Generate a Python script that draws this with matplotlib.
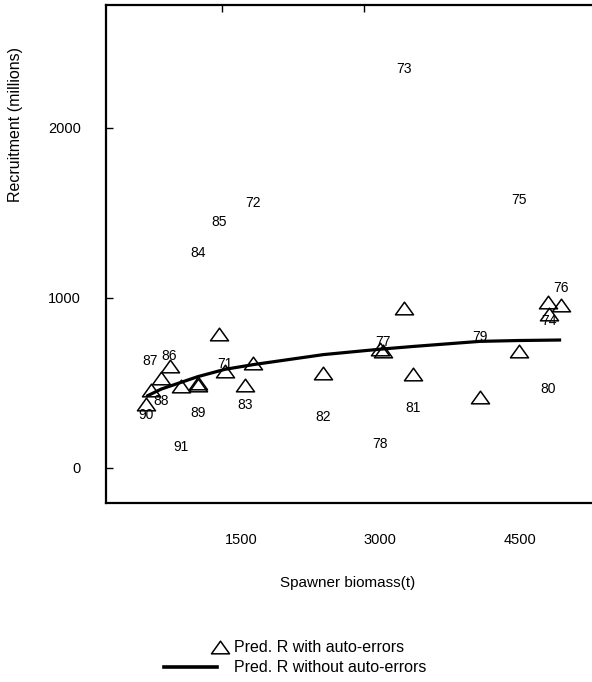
import matplotlib
matplotlib.use('agg')
from matplotlib import pyplot as plt
from matplotlib.lines import Line2D
from matplotlib.path import Path

plt.rcParams['font.family'] = ['Liberation Sans', 'DejaVu Sans']

# spawner biomass (t) and recruitment (millions) per year
years = ['71', '72', '73', '74', '75', '76', '77', '78', '79', '80', '81',
         '82', '83', '84', '85', '86', '87', '88', '89', '90', '91']
spawner = [1327, 1633, 3251, 4816, 4492, 4945, 3029, 2992, 4071, 4802, 3353,
           2388, 1546, 1036, 1266, 734, 529, 644, 1039, 483, 860]
observed_r = [610, 1560, 2348, 860, 1574, 1057, 737, 139, 770, 463, 349,
              300, 370, 1264, 1448, 659, 629, 390, 319, 312, 119]
pred_auto = [566, 616, 939, 904, 684, 958, 688, 700, 413, 972, 551,
             557, 488, 500, 787, 600, 459, 525, 485, 376, 482]

# smooth prediction without auto-correlated errors
curve_s = [483, 644, 860, 1036, 1327, 1633, 2388, 3000, 3353, 4071, 4492, 4945]
curve_r = [419, 462, 502, 535, 578, 606, 665, 697, 713, 743, 748, 751]

x_ticks = [1500, 3000, 4500]
y_ticks = [0, 1000, 2000]

# open triangle, a bit wider than tall
tri = Path([(-1, -0.7), (1, -0.7), (0, 0.7), (-1, -0.7)], closed=True)

fig = plt.figure(figsize=(5.92, 6.82), dpi=100)
ax = fig.add_axes([106 / 592, 1 - 502.5 / 682, 1 - 106 / 592, (502.5 - 5) / 682])

ax.plot(spawner, pred_auto, linestyle='none', marker=tri, markersize=13,
        markerfacecolor='none', markeredgecolor='black', markeredgewidth=1.1)
ax.plot(curve_s, curve_r, color='black', linewidth=2.3, solid_capstyle='butt')
for yr, s, r in zip(years, spawner, observed_r):
    ax.text(s, r, yr, fontsize=10, ha='center', va='center')

ax.set_xlim(50, 5277)
ax.set_ylim(-206, 2724)
ax.set_xticks(x_ticks)
ax.set_yticks(y_ticks)
ax.tick_params(axis='x', length=0, pad=22, labelsize=10.5)
ax.tick_params(axis='y', direction='in', length=5, width=1, pad=18, labelsize=10.5)

ax.spines['right'].set_visible(False)
for side in ['left', 'top', 'bottom']:
    ax.spines[side].set_linewidth(1.6)

# small marks along the top frame
top = ax.secondary_xaxis('top')
top.set_xticks([1295, 2827])
top.tick_params(direction='in', length=5, width=1, labeltop=False)
top.spines['top'].set_visible(False)

fig.text(348 / 592, 1 - 583 / 682, 'Spawner biomass(t)', fontsize=11, ha='center', va='center')
fig.text(16 / 592, 1 - 125 / 682, 'Recruitment (millions)', fontsize=11.5,
         ha='center', va='center', rotation=90)

# legend drawn by hand to keep its layout
fig.add_artist(Line2D([220 / 592], [1 - 647 / 682], transform=fig.transFigure,
                      marker=tri, markersize=13, markerfacecolor='none',
                      markeredgecolor='black', markeredgewidth=1.1, linestyle='none'))
fig.add_artist(Line2D([164 / 592, 217 / 592], [1 - 667 / 682, 1 - 667 / 682],
                      transform=fig.transFigure, color='black', linewidth=2.6))
fig.text(234 / 592, 1 - 647 / 682, 'Pred. R with auto-errors', fontsize=11.5, va='center')
fig.text(234 / 592, 1 - 667 / 682, 'Pred. R without auto-errors', fontsize=11.5, va='center')

plt.savefig('out.png', dpi=100)
